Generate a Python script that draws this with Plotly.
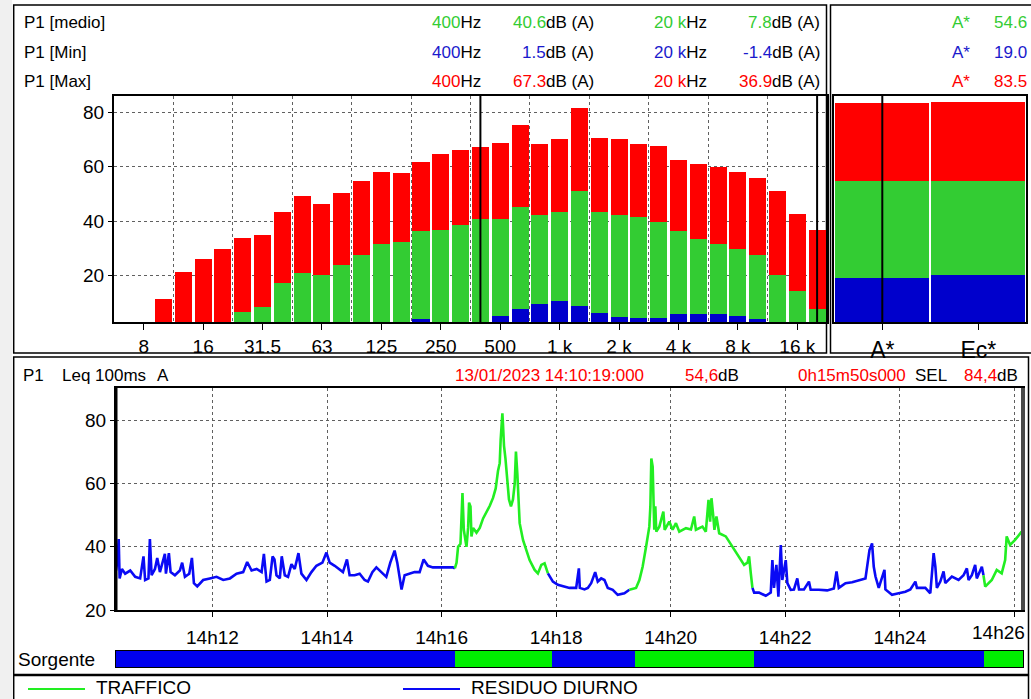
import plotly.graph_objects as go
import pandas as pd

W, H = 1031, 699
FONT = "Liberation Sans, Arial, sans-serif"

# ---------------- spectrum data (1/3 octave) ----------------
bands = ["6.3", "8", "10", "12.5", "16", "20", "25", "31.5", "40", "50", "63", "80",
         "100", "125", "160", "200", "250", "315", "400", "500", "630", "800",
         "1 k", "1.25 k", "1.6 k", "2 k", "2.5 k", "3.15 k", "4 k", "5 k", "6.3 k",
         "8 k", "10 k", "12.5 k", "16 k", "20 k"]
max_db = [None, None, 11.3, 21.2, 26.0, 29.7, 33.7, 34.8, 43.3, 49.1, 46.2, 50.2,
          54.7, 58.0, 57.6, 61.6, 64.6, 66.0, 67.3, 68.6, 75.2, 68.2,
          70.1, 81.5, 70.4, 70.1, 68.2, 67.5, 62.4, 60.9, 59.8,
          58.0, 55.8, 51.0, 42.5, 36.9]
medio_db = [None, None, None, None, None, None, 6.5, 8.4, 17.2, 20.9, 20.1, 23.8,
            27.5, 31.5, 32.2, 36.3, 36.6, 38.5, 40.6, 40.7, 45.1, 42.2,
            43.3, 51.0, 43.3, 42.2, 41.4, 39.6, 36.3, 33.3, 31.5,
            29.7, 27.5, 20.1, 14.2, 7.8]
min_db = [None, None, None, None, None, None, None, None, None, None, None, None,
          None, None, None, 4.0, None, None, 1.5, 5.1, 7.6, 9.5,
          10.6, 8.7, 6.2, 4.7, 4.3, 4.3, 5.8, 5.8, 5.8,
          5.1, 4.0, None, None, -1.4]
octave_ticks = ["8", "16", "31.5", "63", "125", "250", "500", "1 k", "2 k", "4 k", "8 k", "16 k"]
cursor_a = "400"
cursor_b = "20 k"

summ_labels = ["A*", "Ec*"]
summ_max = [83.5, 83.6]
summ_medio = [54.6, 54.7]
summ_min = [19.0, 20.1]

# ---------------- time history data ----------------
t_start = "2023-01-13 14:10:19"
t_end = "2023-01-13 14:26:09"
ts_sec = [0, 1.7, 2.8, 3.8, 6.2, 9.6, 14.9, 20.1, 25.3, 28.8, 30.5, 34, 35.5, 37.3, 40.8, 43.2, 46,
          51.2, 52.3, 55.4, 57.2, 61.7, 66.9, 69.3, 72.2, 76.7, 79.5, 81.6, 85.1, 91.3, 98.3,
          105.3, 112.3, 119.3, 126.3, 133.2, 137.4, 142, 147.3, 152.5, 154.9, 157.7, 161.1,
          164, 166, 168.1, 171.6, 173.6, 176.8, 180.2, 183.8, 187.2, 191.1, 194.2, 199.5,
          204.7, 209.9, 216.2, 220.4, 223.8, 229.1, 233.5, 237.7, 241.9, 244.7, 249.9, 255.2,
          260.4, 263.9, 268.5, 272.7, 277.9, 283.1, 287.3, 291.8, 294.6, 297, 299.1, 302.3,
          307.5, 312.7, 318, 322.2, 326.7, 331.9, 338.9, 345.9, 352.9, 354.9,
          356.7, 358.3, 360.8, 362.9, 364.3, 367.1, 368.8, 369.8, 371.3, 372.3, 374, 377.6,
          381, 384.5, 388, 391.5, 394.9, 397.7, 400.1, 401.9, 402.9, 404.7, 405.3, 406.4,
          407.9, 409.5, 411.6, 413.7, 415.8, 417.6, 418.9, 420.4, 421.8, 422.8, 426.3, 429.8,
          433.2, 438.5, 441.9, 445.5, 448.9, 452.4, 457.6,
          462.8, 468, 475, 482, 484.8, 485.8, 490.7, 494.2, 497.7, 501.9, 504.6, 508.2, 511.6,
          515.1, 520.3, 525.5, 532.5, 537.7, 544.7,
          548.2, 551.6, 555.2, 558.6, 559.7, 560.7, 562.1, 563.8, 564.9, 565.9, 569.1, 573.3,
          574.7, 579.5, 583, 586.5, 590, 597, 602.2, 605.6, 607.4, 614.3, 617.8, 620.6, 622.3,
          623.7, 625.5, 626.8, 628.9, 631.8, 638.7, 645.7, 652.7, 657.9, 661.4, 663.1, 664.9,
          666.6, 668.4,
          673.5, 680.6, 685.8, 687.5, 689.2, 691.7, 693.8, 696.3, 697.9, 701.5, 703.2, 706.7,
          710.1, 713.6, 715.4, 720.6, 725.8, 727.6, 736.2, 744.9, 751.9, 754.7, 757.1, 764.1,
          771, 778, 785, 789.2, 791.9, 793.7, 795.5, 798.9, 804.9, 805.9, 812.8, 819.8, 826.8,
          832, 837.3, 838.9, 847.7, 852.9, 856.4, 858.2, 859.8, 863.4, 866.8, 868.6, 875.5,
          882.5, 887.7, 891.2, 893, 896.4, 899.9, 901.6, 906.9, 908.6,
          910.4, 917.3, 922.5, 927.7, 931.3, 932.9, 936.5, 941.7, 946.9, 948.6]
ts_db = [32.5, 36, 42.5, 30, 33, 31.5, 32.5, 30.5, 30, 37, 29.5, 30, 42.5, 31, 33, 36.5, 32,
         37.8, 31.5, 38, 32, 31, 32.5, 35, 30.5, 31.5, 36.5, 28.5, 27.5, 29.5, 30,
         30.5, 29.5, 30, 31.5, 32, 35.2, 32.5, 33, 32, 37.8, 29, 29.5,
         37, 36, 31, 30, 37, 31, 30.5, 34.5, 33, 38, 31.5, 29.5,
         32, 34, 35, 38.2, 35, 34, 33, 32, 36, 31, 31, 31.5,
         29.5, 29, 32, 33.5, 32, 30.5, 35, 38.8, 35, 30.5, 26.5, 31,
         31.5, 32, 32, 36, 34, 33.5, 33.5, 33.5, 33.5, 33.2,
         35, 40, 41, 57, 45.4, 40, 46, 54, 52.8, 43.3, 46, 44.5,
         46, 49, 51, 53, 55.5, 58.5, 64, 66.5, 73.9, 82.3, 79, 72,
         68, 62, 55, 52.8, 55, 60, 70.2, 63, 56, 47.5, 42.2, 39,
         35.8, 32.7, 31.6, 34.3, 34.8, 31.6, 29,
         28, 27.5, 27, 27, 33.2, 27, 26.5, 27, 28.5, 32, 29, 30, 29.5,
         27, 26.4, 24.8, 25.3, 26.4, 27,
         29.5, 33.7, 40, 46.4, 52.8, 68, 65.4, 45.4, 52.8, 44.8, 46.4, 51.2,
         45.4, 48, 45.4, 47.5, 44.8, 45.9, 45.5, 49.6, 45.4, 46.4, 44.8, 54.9, 48,
         55.4, 50, 45.4, 49.6, 44.3, 43.3, 40, 37, 34.3, 35, 37, 31.6,
         27, 25.5,
         25.5, 24.5, 25.5, 35.8, 27, 34.3, 24.2, 40.6, 29.5, 35.8, 28.5, 26.4,
         26.5, 30, 26.5, 26.5, 29, 26.4, 26.4, 26.2, 26.8, 32.2, 27, 28.5,
         28.8, 29.5, 30, 39, 41.1, 33.7, 30.6, 27, 32.7, 26.5, 24.8, 25.3, 25.8,
         26.5, 29, 27, 27, 25.3, 38, 33.7, 27, 29, 32.2, 28.5, 30.6,
         29.5, 31, 33.2, 29.5, 31, 34.3, 30, 33.7, 31,
         27.4, 29.5, 32.7, 31.6, 35.8, 43.3, 40.6, 42.2, 44.3, 44.8]

src_times = ["14:10:19", "14:16:14", "14:17:56", "14:19:23", "14:21:27", "14:25:28", "14:26:09"]
src_names = ["RESIDUO DIURNO", "TRAFFICO", "RESIDUO DIURNO", "TRAFFICO", "RESIDUO DIURNO", "TRAFFICO"]
legend_names = ["TRAFFICO", "RESIDUO DIURNO"]

# ---------------- styles ----------------
RED, GREEN, BLUE = "#ff0000", "#33cc33", "#0000cc"
TXT_GREEN, TXT_BLUE = "#33cc33", "#1a1acc"
SRC_COL = {"TRAFFICO": "#00ee00", "RESIDUO DIURNO": "#0000ee"}
LINE_COL = {"TRAFFICO": "#22ee22", "RESIDUO DIURNO": "#0a0af5"}
GRID = "#606060"


def px(x):
    return x / W


def py(y):
    return 1 - y / H


fig = go.Figure()

# spectrum bars (overlaid: max behind medio behind min)
idx = list(range(len(bands)))
for vals, col in [(max_db, RED), (medio_db, GREEN), (min_db, BLUE)]:
    fig.add_trace(go.Bar(x=idx, y=vals, marker=dict(color=col, line=dict(width=0)),
                         width=0.86, xaxis="x", yaxis="y", hoverinfo="skip"))
for vals, col in [(summ_max, RED), (summ_medio, GREEN), (summ_min, BLUE)]:
    fig.add_trace(go.Bar(x=summ_labels, y=vals, marker=dict(color=col, line=dict(width=0)),
                         width=0.98, xaxis="x2", yaxis="y2", hoverinfo="skip"))

# time history, coloured by source
t0 = pd.Timestamp(t_start)
day = t_start.split(" ")[0]
times = [t0 + pd.Timedelta(seconds=s) for s in ts_sec]
bounds = [pd.Timestamp(day + " " + t) for t in src_times]
for k, name in enumerate(src_names):
    a, b = bounds[k], bounds[k + 1]
    sel = [i for i, t in enumerate(times) if a <= t < b or (k == len(src_names) - 1 and t == b)]
    if not sel:
        continue
    if sel[0] > 0:
        sel = [sel[0] - 1] + sel
    fig.add_trace(go.Scatter(x=[times[i] for i in sel], y=[ts_db[i] for i in sel], mode="lines",
                             line=dict(color=LINE_COL[name], width=2.6), xaxis="x3", yaxis="y3",
                             hoverinfo="skip"))

# source band
fig.add_trace(go.Bar(
    y=[0] * len(src_names), base=[b.isoformat() for b in bounds[:-1]],
    x=[(bounds[k + 1] - bounds[k]).total_seconds() * 1000 for k in range(len(src_names))],
    orientation="h", width=1, marker=dict(color=[SRC_COL[n] for n in src_names], line=dict(width=0)),
    xaxis="x4", yaxis="y4", hoverinfo="skip"))

tickfont = dict(family=FONT, size=19, color="black")
major_idx = [bands.index(t) for t in octave_ticks]
grid_idx = [v + 1.5 for v in major_idx if v + 1.5 < len(bands) - 0.5]

axis_common = dict(showline=True, linecolor="black", linewidth=2, mirror=True, zeroline=False,
                   tickfont=tickfont, ticks="outside", tickcolor="black", automargin=False)

fig.update_layout(
    width=W, height=H, margin=dict(l=0, r=0, t=0, b=0, pad=0), autosize=False,
    paper_bgcolor="white", plot_bgcolor="white", showlegend=False, barmode="overlay",
    bargap=0,
    xaxis=dict(domain=[px(114), px(827)], range=[-0.5, len(bands) - 0.5], anchor="y",
               tickmode="array", tickvals=major_idx, ticktext=octave_ticks, ticklen=6,
               showgrid=False,
               minor=dict(tickmode="array", tickvals=grid_idx, showgrid=True, gridcolor=GRID,
                          griddash="dot", gridwidth=1, ticks=""),
               **axis_common),
    yaxis=dict(domain=[py(322), py(96)], range=[2.95, 85.9], anchor="x", tickvals=[20, 40, 60, 80],
               ticklen=4, showgrid=True, gridcolor=GRID, griddash="dot", gridwidth=1, **axis_common),
    xaxis2=dict(domain=[px(834.3), px(1026.3)], range=[-0.5, 1.5], anchor="y2", type="category",
                ticklen=6, showgrid=False, **{**axis_common, "tickfont": dict(family=FONT, size=23, color="black")}),
    yaxis2=dict(domain=[py(322), py(96)], range=[2.95, 85.9], anchor="x2", showticklabels=False,
                showgrid=False, showline=True, linecolor="black", linewidth=2, mirror=True, ticks="",
                zeroline=False, automargin=False),
    xaxis3=dict(domain=[px(116), px(1023)], range=[t_start, t_end], anchor="y3", type="date",
                tick0=day + " 14:12:00", dtick=120000, tickformat="%Hh%M", ticklen=5,
                ticklabelstandoff=4,
                showgrid=True, gridcolor=GRID, griddash="dot", gridwidth=1, **axis_common),
    yaxis3=dict(domain=[py(610), py(388)], range=[20, 90.3], anchor="x3", tickvals=[20, 40, 60, 80],
                ticklen=4, showgrid=True, gridcolor=GRID, griddash="dot", gridwidth=1, **axis_common),
    xaxis4=dict(domain=[px(116), px(1023)], range=[t_start, t_end], anchor="y4", type="date",
                showticklabels=False, showgrid=False, ticks="", showline=True, linecolor="black",
                linewidth=1, mirror=True, zeroline=False, automargin=False),
    yaxis4=dict(domain=[py(667), py(651)], range=[-0.5, 0.5], anchor="x4", showticklabels=False,
                showgrid=False, ticks="", showline=True, linecolor="black", linewidth=1, mirror=True,
                zeroline=False, automargin=False),
)

shapes = []
# light grey strip on the left
shapes.append(dict(type="rect", xref="paper", yref="paper", x0=0, x1=px(12), y0=0, y1=1,
                   fillcolor="#f0f0f0", line=dict(width=0), layer="below"))
# panel frames
for x0, x1, y0, y1 in [(13.7, 826.5, 5, 353), (830.5, 1040, 5, 353), (13.7, 1028.5, 357, 674.5),
                       (13.7, 1028.5, 675.5, 710)]:
    shapes.append(dict(type="rect", xref="paper", yref="paper", x0=px(x0), x1=px(x1),
                       y0=py(y1), y1=py(y0), line=dict(color="black", width=1.5),
                       fillcolor="rgba(0,0,0,0)", layer="below"))
# cursors
for b in [cursor_a, cursor_b]:
    shapes.append(dict(type="line", xref="x", yref="y domain", x0=bands.index(b), x1=bands.index(b),
                       y0=0, y1=1, line=dict(color="black", width=2), layer="above"))
shapes.append(dict(type="line", xref="x2", yref="y2 domain", x0=summ_labels[0], x1=summ_labels[0],
                   y0=0, y1=1, line=dict(color="black", width=2), layer="above"))
# time plot edges
shapes.append(dict(type="line", xref="x3 domain", yref="y3 domain", x0=0, x1=0, y0=0, y1=1,
                   line=dict(color="black", width=3), layer="above"))
shapes.append(dict(type="line", xref="x3 domain", yref="y3 domain", x0=1, x1=1, y0=0, y1=1,
                   line=dict(color="#4a4a4a", width=4), layer="above"))
# legend lines
for name, xa, xb in [(legend_names[0], 28, 85), (legend_names[1], 403, 460)]:
    shapes.append(dict(type="line", xref="paper", yref="paper", x0=px(xa), x1=px(xb), y0=py(689),
                       y1=py(689), line=dict(color=LINE_COL[name], width=2)))
fig.update_layout(shapes=shapes)

ann = []


def add_text(x, y, text, anchor="left", size=17, color="black", pad=1):
    ann.append(dict(x=px(x), y=py(y), xref="paper", yref="paper", text=text, showarrow=False,
                    xanchor=anchor, yanchor="middle", borderpad=pad,
                    font=dict(family=FONT, size=size, color=color)))


def c(txt, col):
    return f"<span style='color:{col}'>{txt}</span>"


ia, ib = bands.index(cursor_a), bands.index(cursor_b)
rows = [("P1 [medio]", medio_db, summ_medio, TXT_GREEN, 23),
        ("P1 [Min]", min_db, summ_min, TXT_BLUE, 52.5),
        ("P1 [Max]", max_db, summ_max, RED, 81.5)]
for label, arr, summ, col, y in rows:
    add_text(22, y, label)
    add_text(430, y, c(cursor_a, col) + "Hz")
    add_text(596, y, c(f"{arr[ia]:.1f}", col) + "dB (A)", anchor="right")
    add_text(652, y, c(cursor_b, col) + "Hz")
    add_text(822, y, c(f"{arr[ib]:.1f}", col) + "dB (A)", anchor="right")
    add_text(972, y, summ_labels[0], anchor="right", color=col)
    add_text(992, y, f"{summ[0]:.1f}", color=col)

# time-history header
add_text(21, 375, "P1")
add_text(60, 375, "Leq 100ms")
add_text(155, 375, "A")
add_text(453, 375, c("13/01/2023 14:10:19:000", RED))
add_text(683, 375, c(f"{summ_medio[0]:.1f}".replace(".", ","), RED) + "dB")
add_text(796, 375, c("0h15m50s000", RED))
add_text(913, 375, "SEL")
add_text(962, 375, c("84,4", RED) + "dB")

# last time tick label, kept inside the page like the original
add_text(1027, 632, "14h26", anchor="right", size=19)

add_text(16, 659, "Sorgente", size=19)
add_text(95, 687, legend_names[0], size=19, pad=0)
add_text(470, 687, legend_names[1], size=19, pad=0)
fig.update_layout(annotations=ann)

fig.write_html("out.html")
